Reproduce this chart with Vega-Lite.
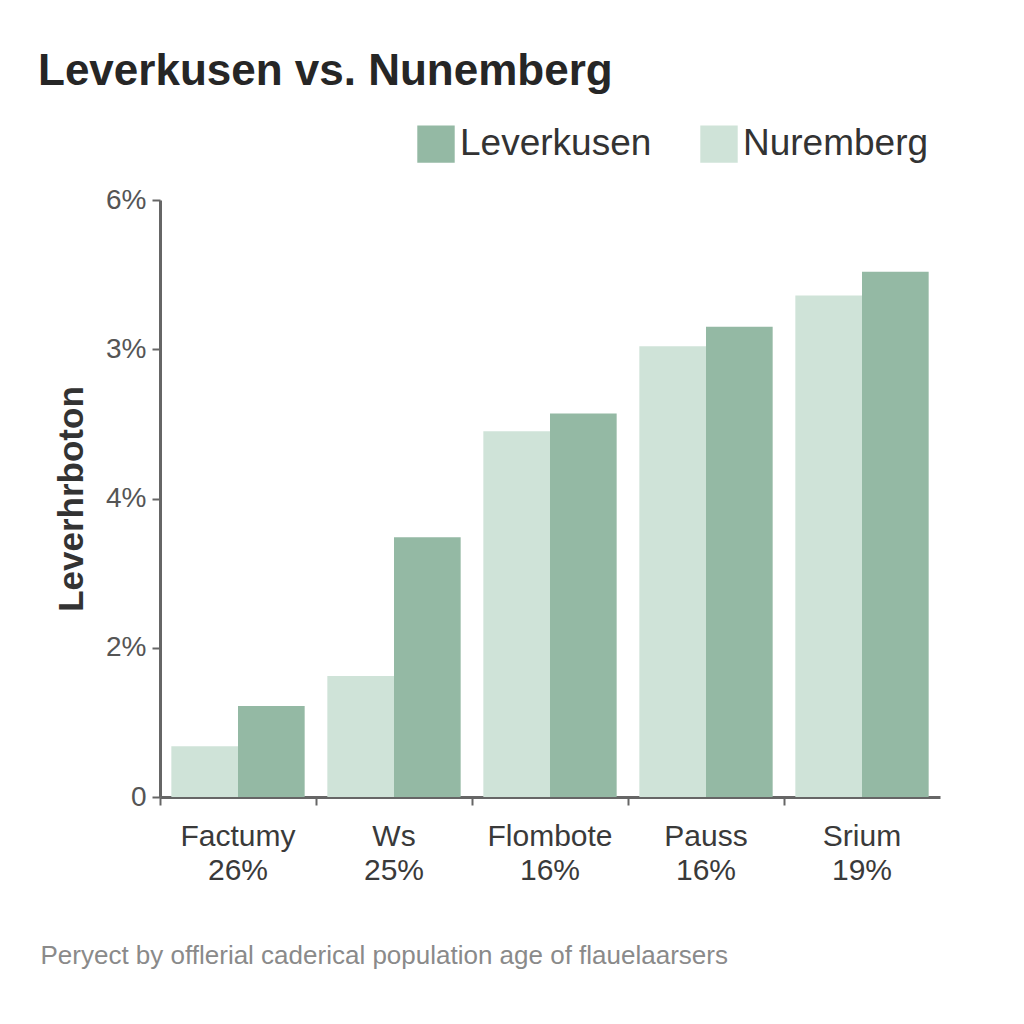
{
  "$schema": "https://vega.github.io/schema/vega-lite/v6.json",
  "width": 780,
  "height": 597,
  "autosize": {"type": "none"},
  "padding": {"left": 160, "top": 200, "right": 84, "bottom": 227},
  "background": "white",
  "title": {
    "text": "Leverkusen vs. Nunemberg",
    "anchor": "start",
    "frame": "group",
    "dx": -122,
    "dy": -11,
    "fontSize": 44,
    "font": "Liberation Sans",
    "fontWeight": "bold",
    "color": "#262626",
    "offset": 20
  },
  "data": {
    "values": [
      {"group": "Factumy 26%", "city": "Nuremberg", "value": 0.34},
      {"group": "Factumy 26%", "city": "Leverkusen", "value": 0.61},
      {"group": "Ws 25%", "city": "Nuremberg", "value": 0.81},
      {"group": "Ws 25%", "city": "Leverkusen", "value": 1.74},
      {"group": "Flombote 16%", "city": "Nuremberg", "value": 2.45},
      {"group": "Flombote 16%", "city": "Leverkusen", "value": 2.57},
      {"group": "Pauss 16%", "city": "Nuremberg", "value": 3.02},
      {"group": "Pauss 16%", "city": "Leverkusen", "value": 3.15},
      {"group": "Srium 19%", "city": "Nuremberg", "value": 3.36},
      {"group": "Srium 19%", "city": "Leverkusen", "value": 3.52}
    ]
  },
  "mark": {"type": "bar"},
  "encoding": {
    "x": {
      "field": "group",
      "type": "nominal",
      "sort": null,
      "scale": {"paddingInner": 0, "paddingOuter": 0},
      "axis": {
        "bandPosition": 0,
        "labelAngle": 0,
        "labelExpr": "split(datum.label, ' ')",
        "labelFont": "Liberation Sans",
        "labelFontSize": 30,
        "labelColor": "#3a3a3a",
        "labelLineHeight": 34,
        "labelPadding": 16,
        "labelBound": false,
        "labelOverlap": false,
        "domainColor": "#666666",
        "domainWidth": 3,
        "tickColor": "#666666",
        "tickWidth": 2,
        "tickSize": 8,
        "title": "Peryect by offlerial caderical population age of flauelaarsers",
        "titleX": -120,
        "titleY": 158,
        "titleAlign": "left",
        "titleAnchor": "start",
        "titleBaseline": "middle",
        "titleFont": "Liberation Sans",
        "titleFontSize": 26,
        "titleFontWeight": "normal",
        "titleColor": "#8a8a8a"
      }
    },
    "xOffset": {
      "field": "city",
      "type": "nominal",
      "sort": ["Nuremberg", "Leverkusen"],
      "scale": {"paddingInner": 0, "paddingOuter": 0.17}
    },
    "y": {
      "field": "value",
      "type": "quantitative",
      "scale": {"domain": [0, 4], "nice": false},
      "axis": {
        "values": [0, 1, 2, 3, 4],
        "labelExpr": "['0', '2%', '4%', '3%', '6%'][datum.value]",
        "grid": false,
        "labelFont": "Liberation Sans",
        "labelFontSize": 28,
        "labelColor": "#555555",
        "labelPadding": 6,
        "domainColor": "#666666",
        "domainWidth": 3,
        "tickColor": "#666666",
        "tickWidth": 2,
        "tickSize": 8,
        "title": "Leverhrboton",
        "titleFont": "Liberation Sans",
        "titleFontSize": 35,
        "titleFontWeight": "bold",
        "titleColor": "#333333",
        "titlePadding": 16
      }
    },
    "color": {
      "field": "city",
      "type": "nominal",
      "scale": {"domain": ["Leverkusen", "Nuremberg"], "range": ["#94b9a4", "#cfe3d8"]},
      "legend": {
        "title": null,
        "orient": "none",
        "legendX": 257,
        "legendY": -75,
        "direction": "horizontal",
        "symbolType": "square",
        "symbolSize": 1400,
        "symbolStrokeWidth": 0,
        "symbolOpacity": 1,
        "labelFont": "Liberation Sans",
        "labelFontSize": 37,
        "labelColor": "#333333",
        "labelOffset": 5,
        "columnPadding": 48,
        "labelLimit": 400
      }
    }
  },
  "config": {"view": {"stroke": null}}
}
